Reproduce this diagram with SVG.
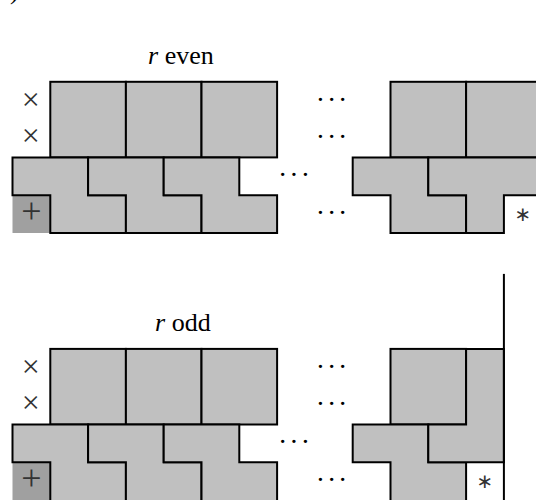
<svg xmlns="http://www.w3.org/2000/svg" width="536" height="500" viewBox="0 0 536 500">
  <style>
    .tile { fill: #c0c0c0; stroke: #000; stroke-width: 2; stroke-linejoin: miter; }
    .mark { fill: #a0a0a0; stroke: none; }
    .edge { fill: none; stroke: #000; stroke-width: 2; }
    .cap { font-family: "Liberation Serif", "Times New Roman", serif; font-size: 26px; fill: #000; }
    .sym { font-family: "Liberation Serif", "Times New Roman", serif; fill: #333; text-anchor: middle; }
    .cross { font-family: "Liberation Serif", "Times New Roman", serif; font-size: 32px; fill: #333; text-anchor: middle; }
    .dots { font-family: "Liberation Serif", "Times New Roman", serif; font-size: 28px; fill: #000; text-anchor: middle; }
    .ast { font-family: "DejaVu Sans", sans-serif; font-size: 20px; fill: #333; text-anchor: middle; }
  </style>

  <!-- clipped label fragment at the top-left corner -->
  <text x="10" y="-1" class="cap" font-size="18" fill="#444">)</text>

  <!-- ===== panel 1: r even ===== -->
  <text class="cap" x="148" y="63.5"><tspan font-style="italic">r</tspan> even</text>

  <g id="panel-even" transform="translate(0,81.8)">
    <!-- corner cell marked + -->
    <g id="even-plus">
      <rect class="mark" x="12.5" y="113.4" width="37.8" height="37.8"/>
      <text class="sym" x="31.4" y="141.2" font-size="36">+</text>
    </g>
    <!-- 2x2 squares, left run -->
    <g id="even-sq1"><rect class="tile" x="50.3" y="0" width="75.6" height="75.6"/></g>
    <g id="even-sq2"><rect class="tile" x="125.9" y="0" width="75.6" height="75.6"/></g>
    <g id="even-sq3"><rect class="tile" x="201.5" y="0" width="75.6" height="75.6"/></g>
    <!-- Z pieces, left run -->
    <g id="even-z1"><polygon class="tile" points="12.5,75.6 88.1,75.6 88.1,113.4 125.9,113.4 125.9,151.2 50.3,151.2 50.3,113.4 12.5,113.4"/></g>
    <g id="even-z2"><polygon class="tile" points="88.1,75.6 163.7,75.6 163.7,113.4 201.5,113.4 201.5,151.2 125.9,151.2 125.9,113.4 88.1,113.4"/></g>
    <g id="even-z3"><polygon class="tile" points="163.7,75.6 239.3,75.6 239.3,113.4 277.1,113.4 277.1,151.2 201.5,151.2 201.5,113.4 163.7,113.4"/></g>
    <!-- right run -->
    <g id="even-sq4"><rect class="tile" x="390.5" y="0" width="75.6" height="75.6"/></g>
    <g id="even-sq5"><rect class="tile" x="466.1" y="0" width="75.6" height="75.6"/></g>
    <g id="even-z4"><polygon class="tile" points="352.7,75.6 428.3,75.6 428.3,113.4 466.1,113.4 466.1,151.2 390.5,151.2 390.5,113.4 352.7,113.4"/></g>
    <g id="even-t"><polygon class="tile" points="428.3,75.6 541.7,75.6 541.7,113.4 503.9,113.4 503.9,151.2 466.1,151.2 466.1,113.4 428.3,113.4"/></g>
    <!-- row markers -->
    <text class="cross" x="30.7" y="28">×</text>
    <text class="cross" x="30.7" y="64.5">×</text>
    <text class="ast" x="522.8" y="139">∗</text>
    <!-- ellipses -->
    <text class="dots" x="320.3 331.7 342.7" y="27">···</text>
    <text class="dots" x="320.3 331.7 342.7" y="64">···</text>
    <text class="dots" x="282.7 294 305.3" y="102">···</text>
    <text class="dots" x="320.3 331.7 342.7" y="140">···</text>
  </g>

  <!-- ===== panel 2: r odd ===== -->
  <text class="cap" x="155" y="331"><tspan font-style="italic">r</tspan> odd</text>

  <g id="panel-odd" transform="translate(0,348.9)">
    <g id="odd-plus">
      <rect class="mark" x="12.5" y="113.4" width="37.8" height="39"/>
      <text class="sym" x="31.4" y="141.2" font-size="36">+</text>
    </g>
    <g id="odd-sq1"><rect class="tile" x="50.3" y="0" width="75.6" height="75.6"/></g>
    <g id="odd-sq2"><rect class="tile" x="125.9" y="0" width="75.6" height="75.6"/></g>
    <g id="odd-sq3"><rect class="tile" x="201.5" y="0" width="75.6" height="75.6"/></g>
    <g id="odd-z1"><polygon class="tile" points="12.5,75.6 88.1,75.6 88.1,113.4 125.9,113.4 125.9,152.6 50.3,152.6 50.3,113.4 12.5,113.4"/></g>
    <g id="odd-z2"><polygon class="tile" points="88.1,75.6 163.7,75.6 163.7,113.4 201.5,113.4 201.5,152.6 125.9,152.6 125.9,113.4 88.1,113.4"/></g>
    <g id="odd-z3"><polygon class="tile" points="163.7,75.6 239.3,75.6 239.3,113.4 277.1,113.4 277.1,152.6 201.5,152.6 201.5,113.4 163.7,113.4"/></g>
    <g id="odd-sq4"><rect class="tile" x="390.5" y="0" width="75.6" height="75.6"/></g>
    <g id="odd-z4"><polygon class="tile" points="352.7,75.6 428.3,75.6 428.3,113.4 466.1,113.4 466.1,152.6 390.5,152.6 390.5,113.4 352.7,113.4"/></g>
    <g id="odd-j"><polygon class="tile" points="466.1,0 503.9,0 503.9,113.4 428.3,113.4 428.3,75.6 466.1,75.6"/></g>
    <!-- boundary wall -->
    <line class="edge" x1="503.9" y1="-75" x2="503.9" y2="160"/>
    <text class="cross" x="30.7" y="28">×</text>
    <text class="cross" x="30.7" y="64.5">×</text>
    <text class="ast" x="485" y="139">∗</text>
    <text class="dots" x="320.3 331.7 342.7" y="27">···</text>
    <text class="dots" x="320.3 331.7 342.7" y="64">···</text>
    <text class="dots" x="282.7 294 305.3" y="102">···</text>
    <text class="dots" x="320.3 331.7 342.7" y="140">···</text>
  </g>
</svg>
